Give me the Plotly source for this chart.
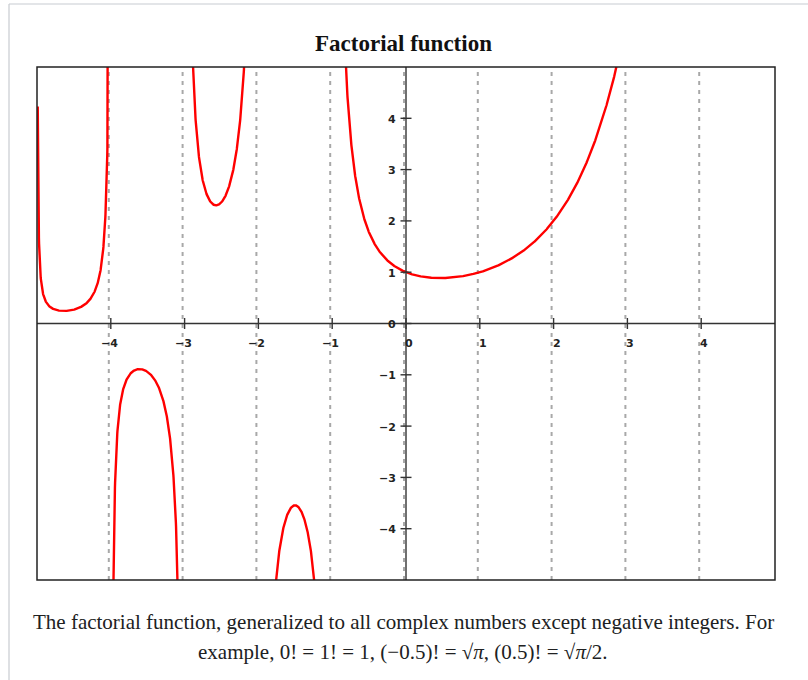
import math
import plotly.graph_objects as go

# Factorial n! = Gamma(n + 1), drawn on each interval between the poles
x_min, x_max = -5.0, 5.0
y_min, y_max = -5.0, 5.0
x_start = -4.99
poles = [-4, -3, -2, -1]
x_ticks = [-4, -3, -2, -1, 0, 1, 2, 3, 4]
x_tick_labels = ["−4", "−3", "−2", "−1", "0", "1", "2", "3", "4"]
y_ticks = [-4, -3, -2, -1, 0, 1, 2, 3, 4]
y_tick_labels = ["−4", "−3", "−2", "−1", "0", "1", "2", "3", "4"]
guide_lines = [-4, -3, -2, -1, 0, 1, 2, 3, 4]

title_text = "Factorial function"
caption_lines = [
    "The factorial function, generalized to all complex numbers except negative integers. For",
    "example, 0! = 1! = 1, (−0.5)! = √<i>π</i>, (0.5)! = √<i>π</i>/2.",
]

step = 0.002
xs, ys = [], []
edges = [x_start] + poles + [x_max + 0.01]
for k, (a, b) in enumerate(zip(edges[:-1], edges[1:])):
    n = int(round((b - a) / step))
    first = 0 if k == 0 else 1
    for i in range(first, n):
        x = a + i * step
        y = math.gamma(x + 1)
        if abs(y) > 40:
            continue
        xs.append(x)
        ys.append(y)
    xs.append(None)
    ys.append(None)

fig = go.Figure()
fig.add_trace(go.Scatter(x=xs, y=ys, mode="lines",
                         line=dict(color="#ff0000", width=2.4),
                         hoverinfo="skip", showlegend=False))

# pixel geometry of the plot area
L, R, T, B = 37, 33, 67, 100
W, H = 808, 680
px_x = (W - L - R) / (x_max - x_min)
px_y = (H - T - B) / (y_max - y_min)

shapes = []
for gx in guide_lines:
    shapes.append(dict(type="line", xref="x", yref="y", x0=gx - 2 / px_x, x1=gx - 2 / px_x,
                       y0=y_min, y1=y_max,
                       line=dict(color="#a8a8a8", width=2, dash="4px,5px"),
                       layer="below"))
# axes crossing at the origin
shapes.append(dict(type="line", xref="x", yref="y", x0=x_min, x1=x_max, y0=0, y1=0,
                   line=dict(color="#333333", width=1.4)))
shapes.append(dict(type="line", xref="x", yref="y", x0=0, x1=0, y0=y_min, y1=y_max,
                   line=dict(color="#333333", width=1.4)))
tl = 5.5
for tx in x_ticks:
    shapes.append(dict(type="line", xref="x", yref="y", x0=tx, x1=tx,
                       y0=-tl / px_y, y1=tl / px_y,
                       line=dict(color="#333333", width=1.4)))
for ty in y_ticks:
    shapes.append(dict(type="line", xref="x", yref="y", x0=-tl / px_x, x1=tl / px_x,
                       y0=ty, y1=ty,
                       line=dict(color="#333333", width=1.4)))
# frame around the plot area
shapes.append(dict(type="rect", xref="paper", yref="paper", x0=0, x1=1, y0=0, y1=1,
                   line=dict(color="#222222", width=1.5)))
# thin page border
pw = W - L - R
ph = H - T - B
bx = (9 - L) / pw
by = (H - B - 4) / ph
shapes.append(dict(type="line", xref="paper", yref="paper", x0=bx, x1=(W - L + 5) / pw,
                   y0=by, y1=by, line=dict(color="#c8ccd1", width=1.2)))
shapes.append(dict(type="line", xref="paper", yref="paper", x0=bx, x1=bx,
                   y0=by, y1=-(B + 5) / ph, line=dict(color="#c8ccd1", width=1.2)))

tick_font = dict(family="DejaVu Sans", size=11, color="#222222")
annotations = []
for tx, lab in zip(x_ticks, x_tick_labels):
    annotations.append(dict(x=tx, y=0, xref="x", yref="y", text="<b>%s</b>" % lab,
                            showarrow=False, xanchor="right", yanchor="middle",
                            xshift=9, yshift=-20, font=tick_font))
for ty, lab in zip(y_ticks, y_tick_labels):
    annotations.append(dict(x=0, y=ty, xref="x", yref="y", text="<b>%s</b>" % lab,
                            showarrow=False, xanchor="right", yanchor="middle",
                            xshift=-8, yshift=-1, font=tick_font))

annotations.append(dict(x=(403 - L) / pw, y=(H - B - 43) / ph, xref="paper", yref="paper",
                        text="<b>%s</b>" % title_text, showarrow=False,
                        xanchor="center", yanchor="middle",
                        font=dict(family="Liberation Serif", size=23, color="#111111")))
for i, line in enumerate(caption_lines):
    annotations.append(dict(x=(403 - L) / pw, y=(H - B - (622 + 30 * i)) / ph,
                            xref="paper", yref="paper", text=line, showarrow=False,
                            xanchor="center", yanchor="middle",
                            font=dict(family="Liberation Serif", size=21, color="#202122")))

fig.update_layout(
    width=W, height=H,
    margin=dict(l=L, r=R, t=T, b=B, pad=0),
    paper_bgcolor="white", plot_bgcolor="white",
    xaxis=dict(range=[x_min, x_max], showgrid=False, zeroline=False,
               showticklabels=False, ticks="", fixedrange=True),
    yaxis=dict(range=[y_min, y_max], showgrid=False, zeroline=False,
               showticklabels=False, ticks="", fixedrange=True),
    shapes=shapes, annotations=annotations, showlegend=False,
)

fig.write_html("out.html")
